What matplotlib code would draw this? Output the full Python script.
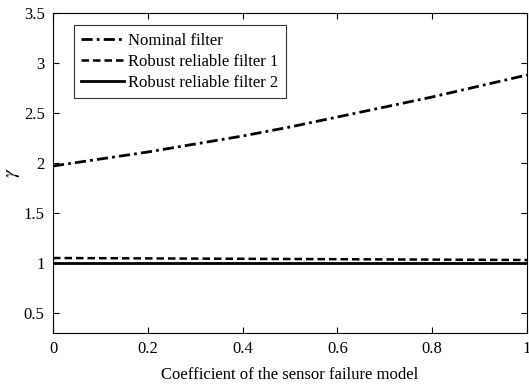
import matplotlib
matplotlib.use('Agg')
import matplotlib.pyplot as plt

# data
coef = [0.0, 0.1, 0.2, 0.3, 0.4, 0.5, 0.6, 0.7, 0.8, 0.9, 1.0]
nominal = [1.97, 2.04, 2.11, 2.19, 2.27, 2.36, 2.46, 2.56, 2.66, 2.77, 2.88]
robust1 = [1.05, 1.048, 1.046, 1.044, 1.042, 1.04, 1.038, 1.036, 1.034, 1.032, 1.03]
robust2 = [1.0, 1.0, 1.0, 1.0, 1.0, 1.0, 1.0, 1.0, 1.0, 1.0, 1.0]
labels = ['Nominal filter', 'Robust reliable filter 1', 'Robust reliable filter 2']
xticks = [0, 0.2, 0.4, 0.6, 0.8, 1]
yticks = [0.5, 1, 1.5, 2, 2.5, 3, 3.5]

plt.rcParams['font.family'] = ['Liberation Serif', 'DejaVu Serif']
plt.rcParams['mathtext.fontset'] = 'stix'
plt.rcParams['font.size'] = 12

fig = plt.figure(figsize = (5.29, 3.85), dpi = 100)
ax = fig.add_axes([53 / 529, 1 - 333 / 385, 474 / 529, 320 / 385])

ax.plot(coef, nominal, color = 'black', linestyle = (0, (4, 1.5, 1, 1.5)), linewidth = 2, label = labels[0])
ax.plot(coef, robust1, color = 'black', linestyle = (0, (3, 1.6)), linewidth = 1.8, label = labels[1])
ax.plot(coef, robust2, color = 'black', linestyle = '-', linewidth = 2, label = labels[2])

ax.set_xlim(0, 1)
ax.set_ylim(0.3, 3.5)
ax.set_xticks(xticks)
ax.set_xticklabels(['0', '0.2', '0.4', '0.6', '0.8', '1'])
ax.set_yticks(yticks)
ax.set_yticklabels(['0.5', '1', '1.5', '2', '2.5', '3', '3.5'])
ax.tick_params(direction = 'in', top = True, right = True, length = 4, width = 0.8, pad = 6)
for s in ax.spines.values():
	s.set_linewidth(0.8)

ax.set_xlabel('Coefficient of the sensor failure model', labelpad = 7)
ax.set_ylabel(r'$\gamma$', fontsize = 14)
ax.yaxis.set_label_coords(-0.065, 0.5)

leg = ax.legend(loc = 'upper left', bbox_to_anchor = (0.044, 0.962), frameon = True, fancybox = False,
	edgecolor = 'black', handlelength = 2.55, handletextpad = 0.25, borderpad = 0.45, labelspacing = 0.3,
	borderaxespad = 0)
leg.get_frame().set_linewidth(0.8)

fig.savefig('out.png', dpi = 100)
